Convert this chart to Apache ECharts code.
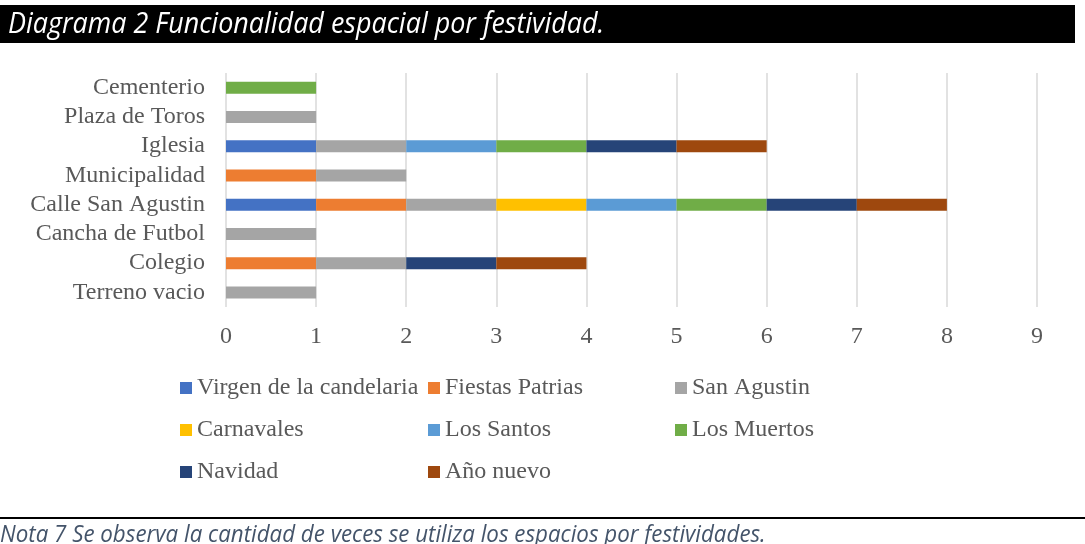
<!DOCTYPE html>
<html><head><meta charset="utf-8">
<script src="https://cdn.jsdelivr.net/npm/echarts@6/dist/echarts.min.js"></script>
<style>html,body{margin:0;padding:0;background:#fff}#c{width:1085px;height:544px}</style>
</head><body><div id="c"></div>
<script>
const categories = ['Terreno vacio','Colegio','Cancha de Futbol','Calle San Agustin','Municipalidad','Iglesia','Plaza de Toros','Cementerio'];
const seriesNames = ['Virgen de la candelaria','Fiestas Patrias','San Agustin','Carnavales','Los Santos','Los Muertos','Navidad','Año nuevo'];
const virgen     = [0,0,0,1,0,1,0,0];
const fiestas    = [0,1,0,1,1,0,0,0];
const sanAgustin = [1,1,1,1,1,1,1,0];
const carnavales = [0,0,0,1,0,0,0,0];
const losSantos  = [0,0,0,1,0,1,0,0];
const losMuertos = [0,0,0,1,0,1,0,1];
const navidad    = [0,1,0,1,0,1,0,0];
const anoNuevo   = [0,1,0,1,0,1,0,0];
const xTicks = [0,1,2,3,4,5,6,7,8,9];
const colors = ['#4472C4','#ED7D31','#A5A5A5','#FFC000','#5B9BD5','#70AD47','#264478','#9E480E'];
const seriesData = [virgen,fiestas,sanAgustin,carnavales,losSantos,losMuertos,navidad,anoNuevo];

const legendPos = [[175,371],[423,371],[670,371],[175,413],[423,413],[670,413],[175,455],[423,455]];
const font = 'Liberation Serif, Times New Roman, serif';

const chart = echarts.init(document.getElementById('c'));
chart.setOption({
  animation:false,
  color: colors,
  graphic:[
    {type:'rect',shape:{x:0,y:5,width:1075,height:38},style:{fill:'#000'}},
    {type:'text',x:8,y:25,scaleX:0.928,style:{text:'Diagrama 2 Funcionalidad espacial por festividad.',fill:'#fff',font:'italic 29px "Open Sans", sans-serif',verticalAlign:'middle'}},
    {type:'rect',shape:{x:0,y:517,width:1085,height:2},style:{fill:'#000'}},
    {type:'text',x:0,y:535,scaleX:0.93,style:{text:'Nota 7 Se observa la cantidad de veces se utiliza los espacios por festividades.',fill:'#44546A',font:'italic 24px "Open Sans", sans-serif',verticalAlign:'middle'}}
  ],
  legend: seriesNames.map((n,i)=>({
    data:[n], left:legendPos[i][0], top:legendPos[i][1], itemWidth:12, itemHeight:12, icon:'rect',
    textStyle:{fontFamily:font,fontSize:24,color:'#595959'}, selectedMode:false
  })),
  grid:{left:226,right:48,top:73,bottom:237,containLabel:false},
  xAxis:{type:'value',min:0,max:9,interval:1,
    axisLine:{show:false},axisTick:{show:false},
    splitLine:{lineStyle:{color:'#D9D9D9',width:1.5}},
    axisLabel:{fontFamily:font,fontSize:24,color:'#595959',margin:18}},
  yAxis:{type:'category',data:categories,
    axisLine:{show:false},axisTick:{show:false},
    axisLabel:{interval:0,fontFamily:font,fontSize:24,color:'#595959',margin:21,padding:[3,0,0,0]}},
  series: seriesNames.map((n,i)=>({
    name:n,type:'bar',stack:'total',barWidth:12,
    data: seriesData[i].map(v=>v===0?null:v),
    itemStyle:{color:colors[i]}
  }))
});
</script></body></html>
